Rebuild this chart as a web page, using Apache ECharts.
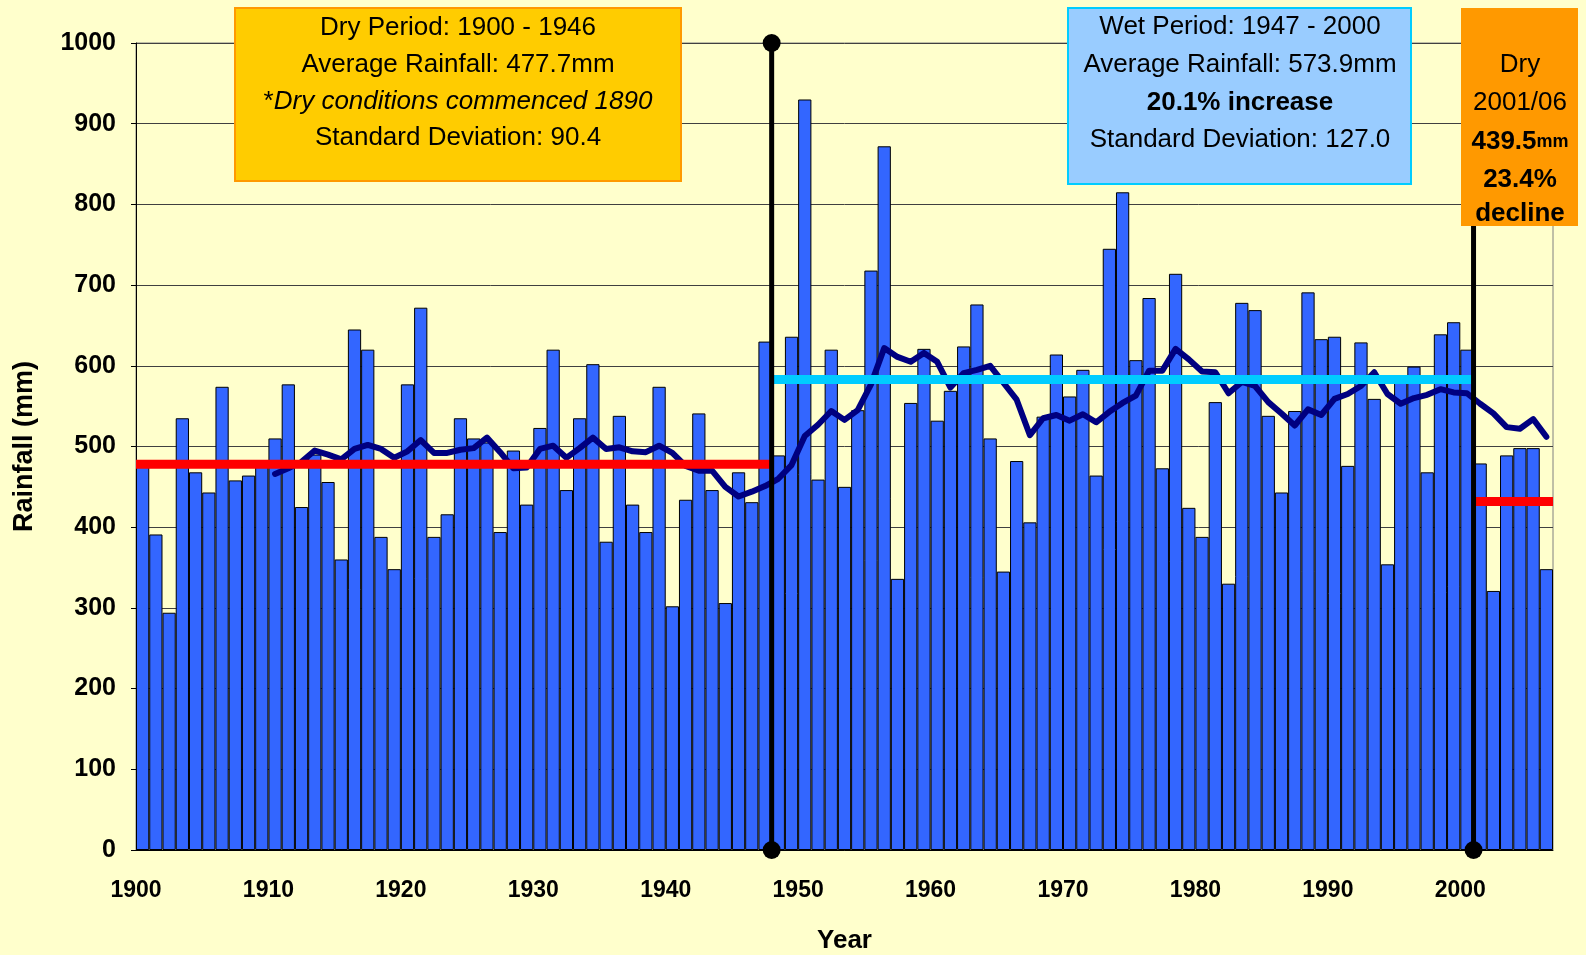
<!DOCTYPE html>
<html><head><meta charset="utf-8">
<script src="https://cdn.jsdelivr.net/npm/echarts@6/dist/echarts.min.js"></script>
<style>html,body{margin:0;padding:0;background:#FFFFCC;}#c{width:1586px;height:955px;}</style>
</head><body><div id="c"></div>
<script>
// ---- data ----
const years = [1900,1901,1902,1903,1904,1905,1906,1907,1908,1909,
1910,1911,1912,1913,1914,1915,1916,1917,1918,1919,
1920,1921,1922,1923,1924,1925,1926,1927,1928,1929,
1930,1931,1932,1933,1934,1935,1936,1937,1938,1939,
1940,1941,1942,1943,1944,1945,1946,1947,1948,1949,
1950,1951,1952,1953,1954,1955,1956,1957,1958,1959,
1960,1961,1962,1963,1964,1965,1966,1967,1968,1969,
1970,1971,1972,1973,1974,1975,1976,1977,1978,1979,
1980,1981,1982,1983,1984,1985,1986,1987,1988,1989,
1990,1991,1992,1993,1994,1995,1996,1997,1998,1999,
2000,2001,2002,2003,2004,2005,2006];
const rainfall = [480,391,294,535,468,443,574,458,464,475,
510,577,425,490,456,360,645,620,388,348,
577,672,388,416,535,510,505,394,495,428,
523,620,446,535,602,382,538,428,394,574,
302,434,541,446,306,468,431,630,489,636,
930,459,620,450,545,718,872,336,554,621,
532,569,624,676,510,345,482,406,537,614,
562,595,464,745,815,607,684,473,714,424,
388,555,330,678,669,538,443,544,691,633,
636,476,629,559,354,580,599,468,639,654,
620,479,321,489,498,498,348];
const movingAvgStart = 1910;
const movingAvg = [466,473,481,495,490,484,497,502,497,486,
494,508,492,492,496,498,511,493,473,474,
497,501,486,498,511,497,499,494,493,501,
492,476,470,470,450,438,444,451,460,477,
513,527,544,533,545,577,622,611,605,616,
605,573,591,595,600,579,558,514,535,539,
532,540,530,543,554,563,594,594,621,608,
593,592,566,580,575,555,541,526,546,539,
559,565,575,592,565,553,560,564,571,567,
566,553,541,524,522,534,512];
const dryPeriod = [1900, 1948];     const dryAvg = 478;
const wetPeriod = [1948, 2001];     const wetAvg = 583;
const recentPeriod = [2001, 2007];  const recentAvg = 432;
const dividers = [1948, 2001];
const xTicks = [1900,1910,1920,1930,1940,1950,1960,1970,1980,1990,2000];
const dryText = ['Dry Period: 1900 - 1946','Average Rainfall: 477.7mm','*Dry conditions commenced 1890','Standard Deviation: 90.4'];
const wetText = ['Wet Period: 1947 - 2000','Average Rainfall: 573.9mm','20.1% increase','Standard Deviation: 127.0'];
const recentText = ['Dry','2001/06','439.5','mm','23.4%','decline'];

// ---- chart ----
const FONT = '"Liberation Sans", Arial, sans-serif';
const BOXFONT = 26;
const chart = echarts.init(document.getElementById('c'), null, {renderer:'canvas'});
const maData = years.map(y => {
  const k = y - movingAvgStart;
  return (k >= 0 && k < movingAvg.length) ? movingAvg[k] : null;
});
function seg(period, v, color) {
  return {type:'line', xAxisIndex:1, data:[[period[0], v],[period[1], v]], symbol:'none',
    lineStyle:{color:color, width:9, cap:'butt'}, z:6, silent:true};
}
function divider(x) {
  return {type:'line', xAxisIndex:1, data:[[x,0],[x,1000]], symbol:'circle', symbolSize:18,
    itemStyle:{color:'#000'}, lineStyle:{color:'#000', width:5}, z:7, clip:false, silent:true};
}
function txt(x, y, text, extra) {
  return {type:'text', z:101, style:Object.assign({text:text, x:x, y:y, align:'center', verticalAlign:'middle',
    font:BOXFONT + 'px ' + FONT, fill:'#000'}, extra||{})};
}
const graphic = [
  {type:'rect', z:100, shape:{x:235, y:8, width:446, height:173}, style:{fill:'#FFCC00', stroke:'#FF9900', lineWidth:2}},
  txt(458, 28, dryText[0]),
  txt(458, 65, dryText[1]),
  {type:'text', z:101, style:{text:'{n|*}{i|' + dryText[2].slice(1) + '}', x:458, y:102, align:'center', verticalAlign:'middle',
    rich:{n:{font:BOXFONT + 'px ' + FONT, fill:'#000'}, i:{font:'italic ' + BOXFONT + 'px ' + FONT, fill:'#000'}}}},
  txt(458, 138, dryText[3]),
  {type:'rect', z:100, shape:{x:1068, y:8, width:343, height:176}, style:{fill:'#99CCFF', stroke:'#00CCFF', lineWidth:2}},
  txt(1240, 27, wetText[0]),
  txt(1240, 65, wetText[1]),
  txt(1240, 103, wetText[2], {font:'bold ' + BOXFONT + 'px ' + FONT}),
  txt(1240, 140, wetText[3]),
  {type:'rect', z:100, shape:{x:1461, y:8, width:117, height:218}, style:{fill:'#FF9900'}},
  txt(1520, 65, recentText[0], {font:'26px ' + FONT}),
  txt(1520, 103, recentText[1], {font:'26px ' + FONT}),
  {type:'text', z:101, style:{text:'{a|' + recentText[2] + '}{b|' + recentText[3] + '}', x:1520, y:142, align:'center', verticalAlign:'middle',
    rich:{a:{font:'bold 26px ' + FONT, fill:'#000'}, b:{font:'bold 18px ' + FONT, fill:'#000'}}}},
  txt(1520, 180, recentText[4], {font:'bold 26px ' + FONT}),
  txt(1520, 214, recentText[5], {font:'bold 26px ' + FONT})
];
chart.setOption({
  animation:false,
  backgroundColor:'#FFFFCC',
  grid:{left:136, right:33, top:43, bottom:105, outerBoundsMode:'none', containLabel:false,
    show:true, backgroundColor:'#FFFFCC', borderColor:'#808080', borderWidth:1},
  xAxis:[
    {type:'category', data:years, boundaryGap:true, show:false},
    {type:'value', min:1900, max:2007, position:'bottom',
      axisLine:{show:true, lineStyle:{color:'#000', width:1}}, axisTick:{show:false},
      splitLine:{show:false},
      axisLabel:{customValues:xTicks, margin:29, color:'#000', fontWeight:'bold', fontSize:23, fontFamily:FONT, formatter:v => String(v)},
      name:'Year', nameLocation:'middle', nameGap:78,
      nameTextStyle:{color:'#000', fontWeight:'bold', fontSize:26, fontFamily:FONT}}
  ],
  yAxis:{type:'value', min:0, max:1000, interval:100,
    axisLine:{show:true, lineStyle:{color:'#000', width:1}},
    axisTick:{show:true, length:5, lineStyle:{color:'#000'}},
    axisLabel:{margin:20, color:'#000', fontWeight:'bold', fontSize:25, fontFamily:FONT, formatter:v => String(v)},
    splitLine:{show:true, lineStyle:{color:'#404040', width:1}},
    name:'Rainfall (mm)', nameLocation:'middle', nameGap:98,
    nameTextStyle:{color:'#000', fontWeight:'bold', fontSize:27, fontFamily:FONT}},
  graphic:graphic,
  series:[
    {type:'bar', xAxisIndex:0, data:rainfall, barCategoryGap:'0%',
      itemStyle:{color:'#3366FF', borderColor:'#000', borderWidth:1}, z:2, silent:true},
    {type:'line', xAxisIndex:0, data:maData, symbol:'none', connectNulls:false,
      lineStyle:{color:'#000080', width:6, cap:'round', join:'round'}, z:5, silent:true},
    seg(dryPeriod, dryAvg, '#FF0000'),
    seg(wetPeriod, wetAvg, '#00CCFF'),
    seg(recentPeriod, recentAvg, '#FF0000'),
    divider(dividers[0]),
    divider(dividers[1])
  ]
});
</script></body></html>
